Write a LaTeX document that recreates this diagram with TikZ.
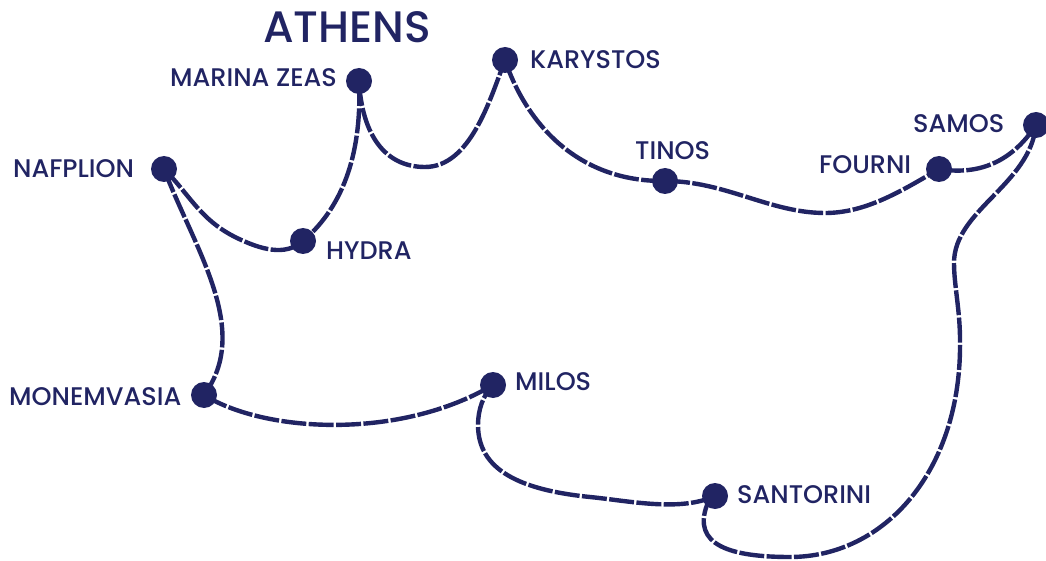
\documentclass[tikz,border=0pt]{standalone}
\usepackage{fontspec}
\setmainfont[UprightFont=* Medium]{Poppins}
\definecolor{navy}{HTML}{212463}
\tikzset{
  stop/.style={circle,fill=navy,draw=none,minimum size=26pt,inner sep=0pt},
  route/.style={draw=navy,line width=4.4pt,dash pattern=on 25pt off 2.4pt},
  place/.style={text=navy,inner sep=0pt,anchor=base west,font=\fontsize{25.5pt}{27pt}\selectfont},
  title/.style={text=navy,inner sep=0pt,anchor=base,font=\fontsize{44pt}{46pt}\selectfont}
}
\begin{document}
\begin{tikzpicture}[x=1pt,y=-1pt]
\useasboundingbox (0,0) rectangle (1046,561);
\node[stop] (zeas) at (359,81) {};
\node[stop] (kar) at (505,60) {};
\node[stop] (naf) at (164,169) {};
\node[stop] (hyd) at (303,241) {};
\node[stop] (tin) at (665,181) {};
\node[stop] (fou) at (939,169) {};
\node[stop] (sam) at (1036,125) {};
\node[stop] (mon) at (204,395) {};
\node[stop] (mil) at (493,385) {};
\node[stop] (san) at (715,496) {};
\path[route] (zeas.center) .. controls (362,150) and (345,205) .. (hyd.center);
\path[route] (zeas.center) .. controls (362,135) and (385,167) .. (425,167) .. controls (470,167) and (490,100) .. (kar.center);
\path[route] (kar.center) .. controls (525,120) and (575,182) .. (tin.center);
\path[route] (tin.center) .. controls (725,181) and (770,213) .. (825,213) .. controls (865,213) and (900,192) .. (fou.center);
\path[route] (fou.center) .. controls (975,175) and (1010,165) .. (sam.center);
\path[route] (sam.center) .. controls (1030,185) and (954,210) .. (954,263) .. controls (954,285) and (960,310) .. (960,340) .. controls (962,470) and (885,557) .. (790,557) .. controls (730,557) and (692,545) .. (707,505) -- (san.center);
\path[route] (san.center) .. controls (680,512) and (630,501) .. (590,497) .. controls (520,490) and (478,470) .. (478,425) .. controls (478,410) and (483,395) .. (mil.center);
\path[route] (mon.center) .. controls (265,433) and (400,440) .. (mil.center);
\path[route] (naf.center) .. controls (195,250) and (252,330) .. (mon.center);
\path[route] (naf.center) .. controls (190,195) and (200,220) .. (237,238) .. controls (260,249) and (285,257) .. (hyd.center);
\node[title] (athens) at (347,43) {ATHENS};
\node[place] (lzeas) at (170,87) {MARINA ZEAS};
\node[place] (lkar) at (530,69) {KARYSTOS};
\node[place] (lnaf) at (13,178) {NAFPLION};
\node[place] (lhyd) at (326,259) {HYDRA};
\node[place] (ltin) at (635,160) {TINOS};
\node[place] (lfou) at (819,174) {FOURNI};
\node[place] (lsam) at (913,133) {SAMOS};
\node[place] (lmon) at (9,405) {MONEMVASIA};
\node[place] (lmil) at (515,390) {MILOS};
\node[place] (lsan) at (737,503) {SANTORINI};
\end{tikzpicture}
\end{document}
